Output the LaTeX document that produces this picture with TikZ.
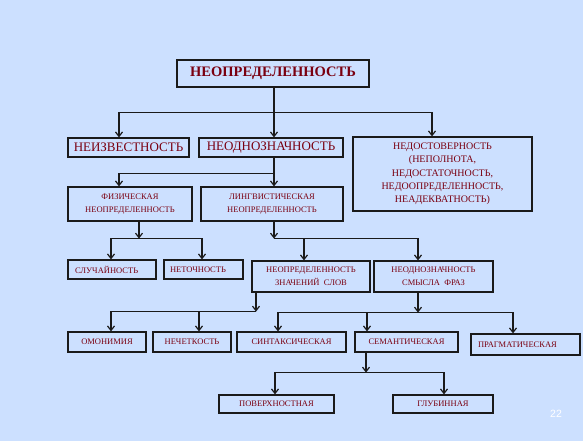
\documentclass[tikz,border=0pt]{standalone}
\usepackage{fontspec}
\setmainfont{Liberation Serif}
\newfontfamily\numfont{Liberation Sans}
\usetikzlibrary{arrows.meta,calc}
\definecolor{bg}{HTML}{CCE0FF}
\definecolor{txt}{HTML}{7A0010}
\definecolor{edge}{HTML}{1A1A1A}
\begin{document}
\begin{tikzpicture}[x=1pt,y=-1pt,
  box/.style={draw=edge,line width=1.2pt,fill=bg,inner sep=0pt,text=txt,align=center},
  leftbox/.style={box,align=left,inner ysep=0pt},
  bigtxt/.style={font=\fontsize{13}{15}\selectfont},
  smalltxt/.style={font=\fontsize{8.5}{13}\selectfont},
  arr/.style={line width=1.2pt,draw=edge,-{Straight Barb[length=4.5pt,width=7pt,line width=1.2pt]}},
  ln/.style={line width=1.2pt,draw=edge}]
\fill[bg] (0,0) rectangle (583,441);
\useasboundingbox (0,0) rectangle (583,441);

\node[box,minimum width=192pt,minimum height=27pt,font=\bfseries\fontsize{14.5}{16}\selectfont] (top) at (273,73.5) {НЕОПРЕДЕЛЕННОСТЬ};
\node[box,bigtxt,minimum width=121pt,minimum height=19pt] (neizv) at (128.5,147.5) {НЕИЗВЕСТНОСТЬ};
\node[box,bigtxt,minimum width=144pt,minimum height=19pt] (neodn) at (271,147.5) {НЕОДНОЗНАЧНОСТЬ};
\node[box,font=\fontsize{10}{13.3}\selectfont,minimum width=179pt,minimum height=74pt] (nedost) at (442.5,174) {НЕДОСТОВЕРНОСТЬ\\(НЕПОЛНОТА,\\НЕДОСТАТОЧНОСТЬ,\\НЕДООПРЕДЕЛЕННОСТЬ,\\НЕАДЕКВАТНОСТЬ)};
\node[box,smalltxt,minimum width=124pt,minimum height=34pt] (fiz) at (130,204) {ФИЗИЧЕСКАЯ\\НЕОПРЕДЕЛЕННОСТЬ};
\node[box,smalltxt,minimum width=142pt,minimum height=34pt] (ling) at (272,204) {ЛИНГВИСТИЧЕСКАЯ\\НЕОПРЕДЕЛЕННОСТЬ};
\node[leftbox,smalltxt,inner xsep=7pt,text width=74pt,minimum height=19pt] (sluch) at (112,269.5) {СЛУЧАЙНОСТЬ};
\node[leftbox,smalltxt,inner xsep=6pt,text width=67pt,minimum height=19pt] (netoch) at (203.5,269.5) {НЕТОЧНОСТЬ};
\node[box,smalltxt,minimum width=118pt,minimum height=31pt] (nzs) at (311,276.5) {НЕОПРЕДЕЛЕННОСТЬ\\ЗНАЧЕНИЙ\ \ СЛОВ};
\node[box,smalltxt,minimum width=119pt,minimum height=31pt] (nsf) at (433.5,276.5) {НЕОДНОЗНАЧНОСТЬ\\СМЫСЛА\ \ ФРАЗ};
\node[box,smalltxt,minimum width=78pt,minimum height=20pt] (omon) at (107,342) {ОМОНИМИЯ};
\node[box,smalltxt,minimum width=78pt,minimum height=20pt] (nechet) at (192,342) {НЕЧЕТКОСТЬ};
\node[box,smalltxt,minimum width=109pt,minimum height=20pt] (sint) at (291.5,342) {СИНТАКСИЧЕСКАЯ};
\node[box,smalltxt,minimum width=103pt,minimum height=20pt] (sem) at (406.5,342) {СЕМАНТИЧЕСКАЯ};
\node[leftbox,smalltxt,inner xsep=7pt,text width=95pt,minimum height=21pt] (prag) at (525.5,344.5) {ПРАГМАТИЧЕСКАЯ};
\node[box,smalltxt,minimum width=115pt,minimum height=18pt] (pov) at (276.5,404) {ПОВЕРХНОСТНАЯ};
\node[box,smalltxt,minimum width=100pt,minimum height=18pt] (glub) at (443,404) {ГЛУБИННАЯ};

\node[text=white,font=\numfont\fontsize{10.5}{12}\selectfont] (num) at (556,414) {22};

% top level
\draw[arr] ([xshift=1pt]top.south) -- ([xshift=3pt]neodn.north);
\path ([xshift=1pt]top.south) ++(0,25) coordinate (j1);
\draw[arr] (j1) -| ([xshift=-9.5pt]neizv.north);
\draw[arr] (j1) -| ([xshift=-10.5pt]nedost.north);

% neodnoznachnost
\draw[ln] ([xshift=3pt]neodn.south) -- ++(0,16) coordinate (j2);
\draw[arr] (j2) -| ([xshift=-11pt]fiz.north);
\draw[arr] (j2) -- ([xshift=2pt]ling.north);

% fizicheskaya
\draw[arr] ([xshift=9pt]fiz.south) -- ++(0,17) coordinate (j3);
\draw[arr] (j3) -| ([xshift=-1pt]sluch.north);
\draw[arr] (j3) -| ([xshift=-1.5pt]netoch.north);

% lingvisticheskaya
\draw[arr] ([xshift=2pt]ling.south) -- ++(0,17) coordinate (j4);
\draw[arr] (j4) -| ([xshift=-7pt]nzs.north);
\draw[arr] (j4) -| ([xshift=-15.5pt]nsf.north);

% znacheniy slov
\draw[arr] ([xshift=-55pt]nzs.south) -- ++(0,19) coordinate (j5);
\draw[arr] (j5) -| ([xshift=4pt]omon.north);
\draw[arr] (j5) -| ([xshift=7pt]nechet.north);

% smysla fraz
\draw[arr] ([xshift=-15.5pt]nsf.south) -- ++(0,20) coordinate (j6);
\draw[arr] (j6) -| ([xshift=-13.5pt]sint.north);
\draw[arr] (j6) -| ([xshift=-39.5pt]sem.north);
\draw[arr] (j6) -| ([xshift=-12.5pt]prag.north);

% semanticheskaya
\draw[arr] ([xshift=-40.5pt]sem.south) -- ++(0,20) coordinate (j7);
\draw[arr] (j7) -| ([xshift=-1.5pt]pov.north);
\draw[arr] (j7) -| ([xshift=1pt]glub.north);
\end{tikzpicture}
\end{document}
